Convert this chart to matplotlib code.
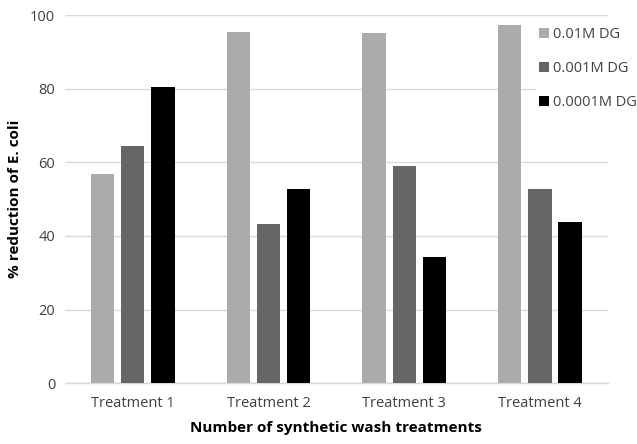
import matplotlib
matplotlib.use("Agg")
import matplotlib.pyplot as plt
import numpy as np

categories = ["Treatment 1", "Treatment 2", "Treatment 3", "Treatment 4"]
series_names = ["0.01M DG", "0.001M DG", "0.0001M DG"]
vals_001 = [56.7, 95.5, 95.2, 97.2]
vals_0001 = [64.5, 43.2, 58.9, 52.8]
vals_00001 = [80.4, 52.7, 34.4, 43.9]
yticks = [0, 20, 40, 60, 80, 100]

colors = ["#ababab", "#666666", "#000000"]

plt.rcParams['font.family'] = ['Open Sans', 'DejaVu Sans']

fig = plt.figure(figsize=(6.37, 4.44), dpi=100)
ax = fig.add_axes([0.102, 0.1367, 0.852, 0.8295])

x = np.arange(len(categories))
pitch = 0.223
width = 0.172
for i, (vals, name) in enumerate(zip([vals_001, vals_0001, vals_00001], series_names)):
    ax.bar(x + (i - 1) * pitch, vals, width=width, color=colors[i], label=name, zorder=3)

ax.set_xlim(-0.5, len(categories) - 0.5)
ax.set_ylim(0, 100)
ax.set_yticks(yticks)
ax.set_xticks(x)
ax.set_xticklabels(categories, fontsize=10.5, color="#404040")
ax.tick_params(axis='y', labelsize=10.5, labelcolor="#404040", length=0, pad=7)
ax.tick_params(axis='x', length=0, pad=9)
ax.grid(axis='y', color="#d9d9d9", linewidth=1, zorder=0)
for s in ["top", "right", "left"]:
    ax.spines[s].set_visible(False)
ax.spines["bottom"].set_color("#d9d9d9")
ax.spines["bottom"].set_linewidth(1)

ax.set_ylabel("% reduction of E. coli", fontsize=11, fontweight="bold", color="#000000", labelpad=6)
ax.set_xlabel("Number of synthetic wash treatments", fontsize=11, fontweight="bold", color="#000000", labelpad=7)

leg = ax.legend(loc="upper left", bbox_to_anchor=(0.868, 0.975), frameon=True, fontsize=10.5,
                handlelength=0.7, handleheight=0.7, handletextpad=0.25, labelspacing=1.3,
                borderaxespad=0, borderpad=0.2)
leg.get_frame().set_facecolor("white")
leg.get_frame().set_edgecolor("none")
leg.get_frame().set_alpha(1)
for t in leg.get_texts():
    t.set_color("#404040")

fig.savefig("out.png", dpi=100, facecolor="white")
